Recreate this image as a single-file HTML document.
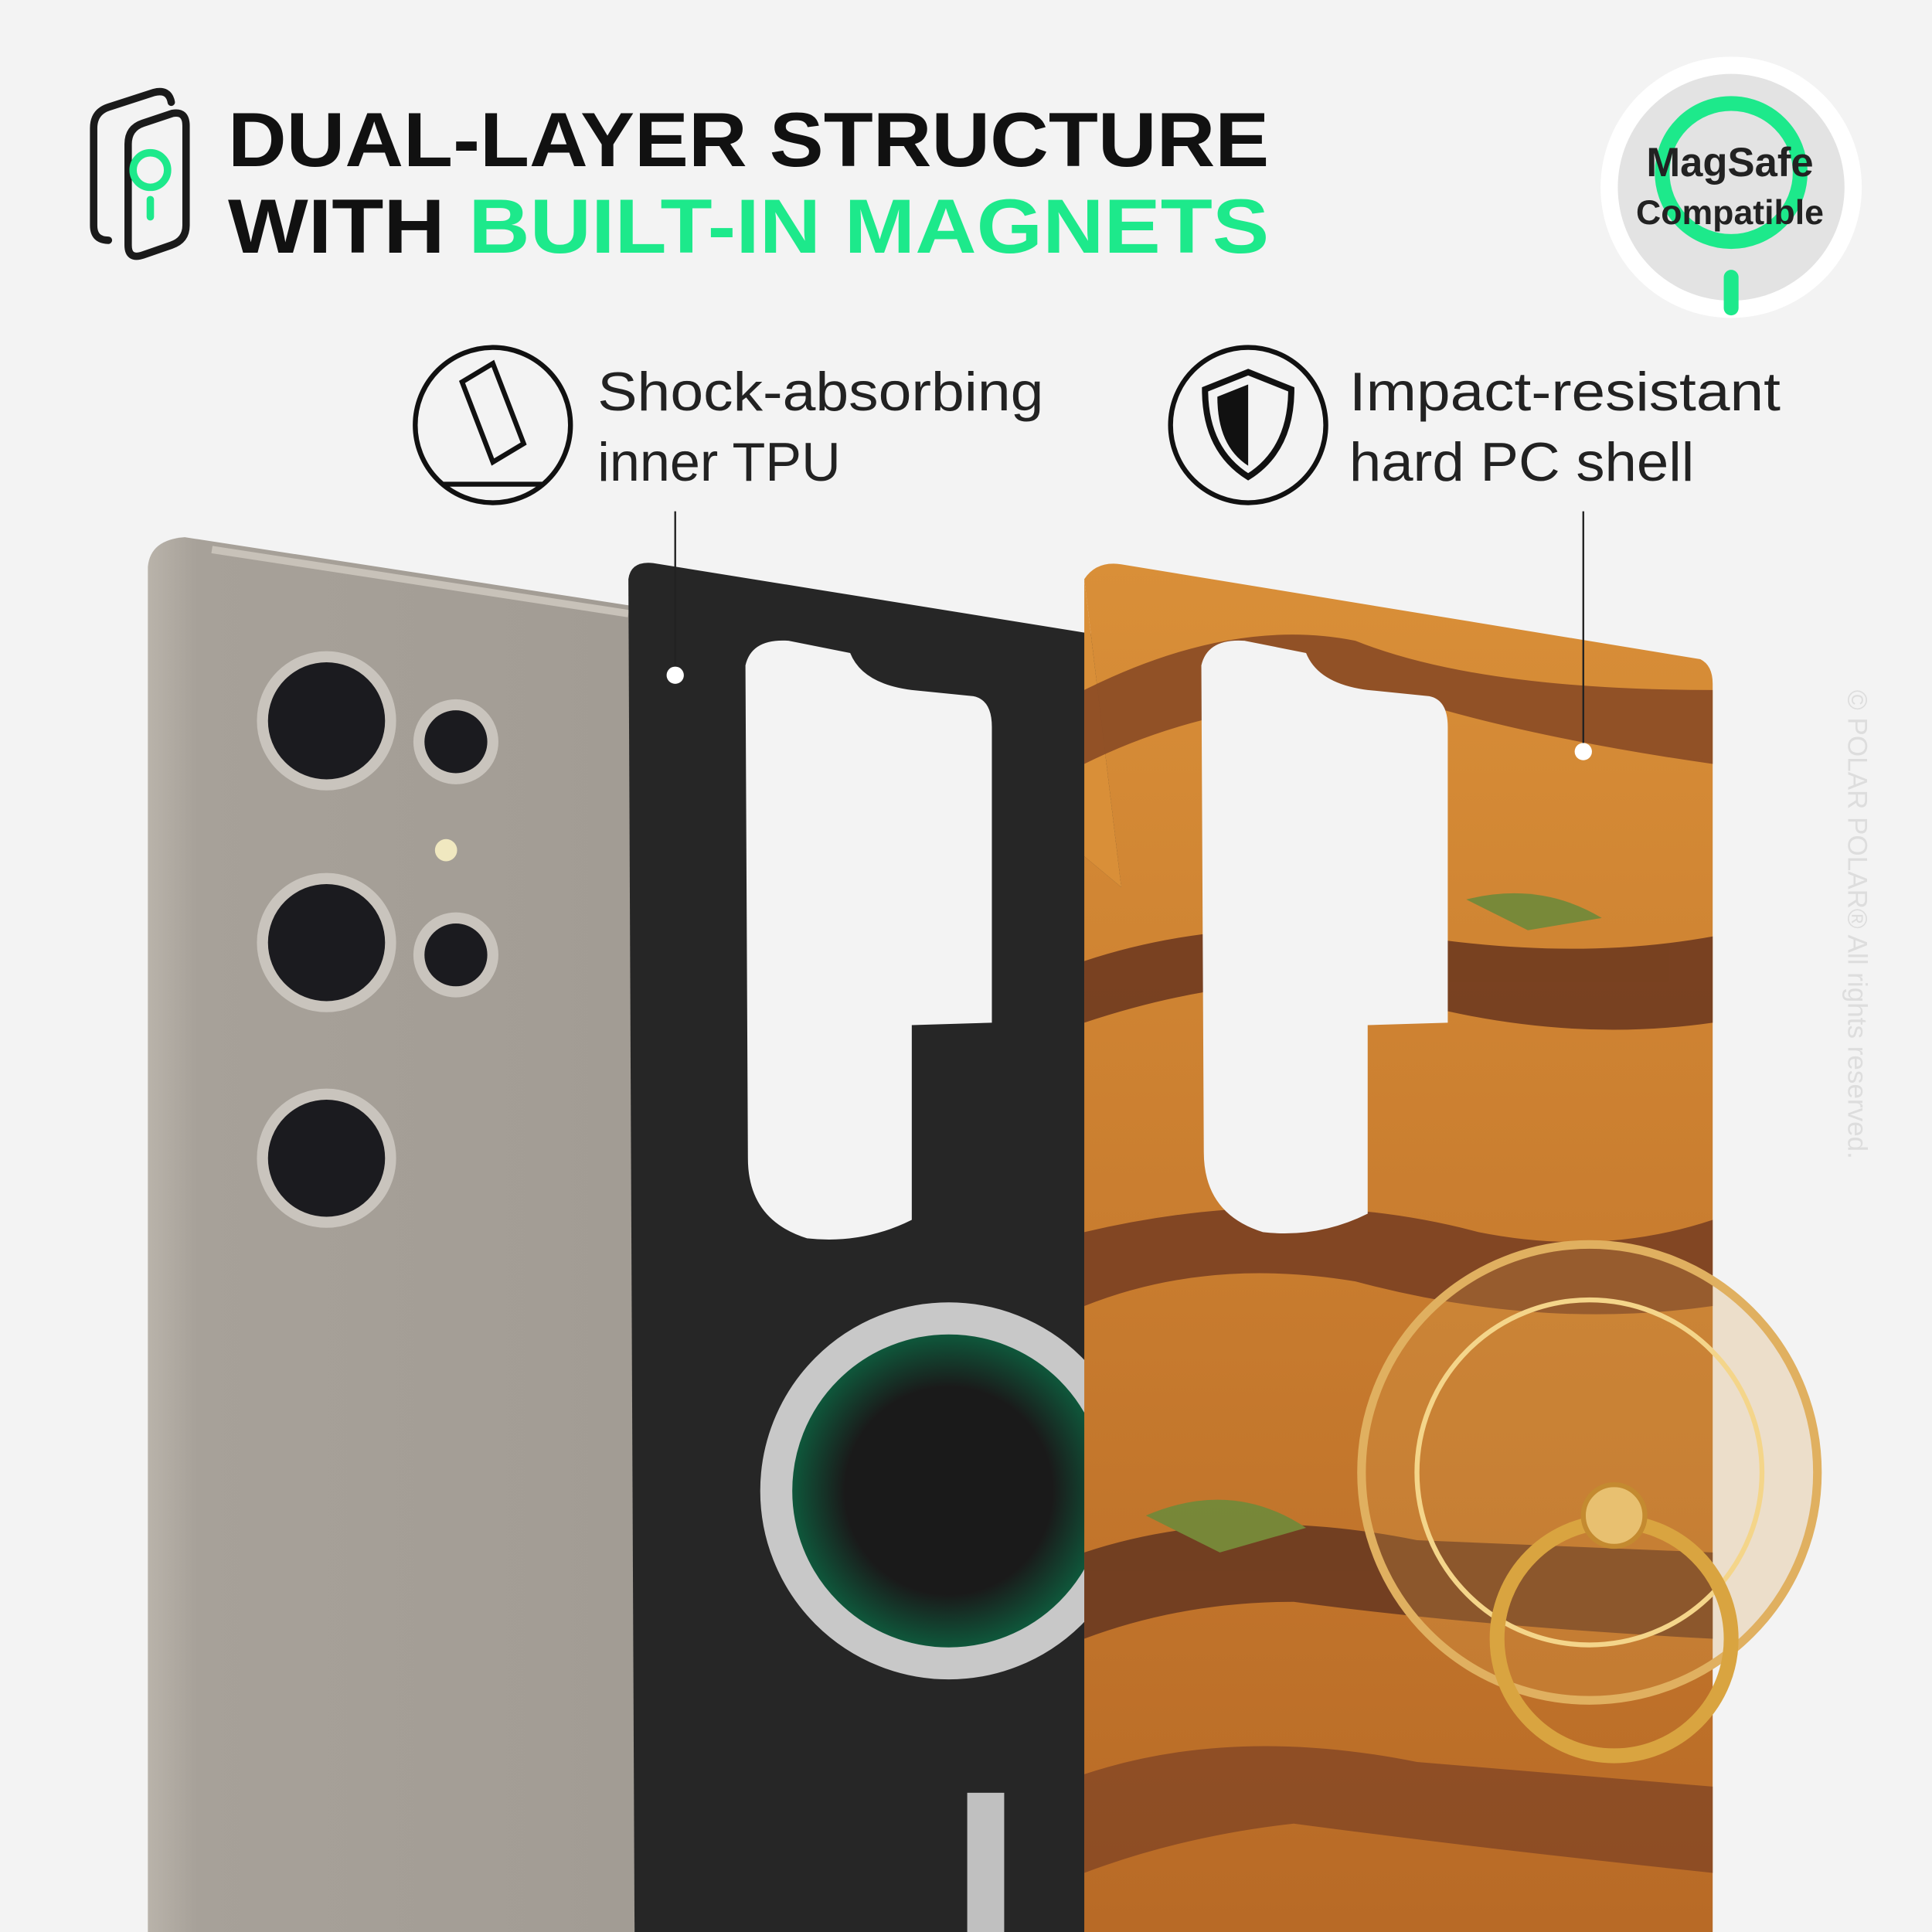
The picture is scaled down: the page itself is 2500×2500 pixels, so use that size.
<!DOCTYPE html>
<html><head><meta charset="utf-8"><style>
html,body{margin:0;padding:0;background:#f3f3f3}
svg{display:block}
text{font-family:"Liberation Sans",sans-serif}
</style></head><body>
<svg width="2500" height="2500" viewBox="0 0 1568 1568" xmlns="http://www.w3.org/2000/svg">
<defs>
<linearGradient id="ph" x1="0" x2="1"><stop offset="0" stop-color="#b9b3aa"/><stop offset="0.1" stop-color="#a7a199"/><stop offset="1" stop-color="#a29c94"/></linearGradient>
<linearGradient id="or" x1="0" y1="0" x2="0" y2="1"><stop offset="0" stop-color="#d98f38"/><stop offset="1" stop-color="#b86a26"/></linearGradient>
<radialGradient id="gr"><stop offset="0.6" stop-color="#1a1a1a"/><stop offset="1" stop-color="#0b6a45"/></radialGradient>
</defs>
<rect width="1568" height="1568" fill="#f3f3f3"/>
<g fill="none" stroke="#1a1a1a" stroke-width="6" stroke-linecap="round">
<path d="M139 83 Q137 72 125 75 L88 87 Q76 91 76 104 L76 183 Q76 195 88 195"/>
<path d="M104 117 Q104 104 116 100 L140 92 Q151 90 151 102 L151 183 Q151 195 139 199 L116 207 Q104 211 104 199 Z"/>
</g>
<circle cx="122" cy="138" r="14" fill="none" stroke="#1de98b" stroke-width="6"/>
<line x1="122" y1="162" x2="122" y2="176" stroke="#1de98b" stroke-width="6" stroke-linecap="round"/>
<text x="185" y="135" font-size="62" font-weight="bold" fill="#111" textLength="845" lengthAdjust="spacingAndGlyphs">DUAL-LAYER STRUCTURE</text>
<text x="185" y="205" font-size="62" font-weight="bold" fill="#111" textLength="845" lengthAdjust="spacingAndGlyphs">WITH <tspan fill="#1de98b">BUILT-IN MAGNETS</tspan></text>
<circle cx="1405" cy="152" r="106" fill="#fff"/>
<circle cx="1405" cy="152" r="92" fill="#e3e3e3"/>
<circle cx="1405" cy="140" r="56" fill="none" stroke="#1de98b" stroke-width="12"/>
<line x1="1405" y1="225" x2="1405" y2="250" stroke="#1de98b" stroke-width="12" stroke-linecap="round"/>
<text x="1404" y="143" font-size="33" font-weight="bold" text-anchor="middle" fill="#222">MagSafe</text>
<text x="1404" y="182" font-size="28" font-weight="bold" text-anchor="middle" fill="#222">Compatible</text>
<circle cx="400" cy="345" r="63" fill="none" stroke="#111" stroke-width="4"/>
<path d="M375 310 L400 295 L425 360 L400 375 Z" fill="none" stroke="#111" stroke-width="4"/>
<path d="M360 393 L440 393" stroke="#111" stroke-width="4"/>
<text x="485" y="333" font-size="44" fill="#222" textLength="362" lengthAdjust="spacingAndGlyphs">Shock-absorbing</text>
<text x="485" y="390" font-size="44" fill="#222">inner TPU</text>
<circle cx="1013" cy="345" r="63" fill="none" stroke="#111" stroke-width="4"/>
<path d="M1013 302 L1048 316 Q1048 365 1013 387 Q978 365 978 316 Z" fill="none" stroke="#111" stroke-width="5"/>
<path d="M1013 312 L1013 378 Q988 362 988 322 Z" fill="#111"/>
<text x="1095" y="333" font-size="44" fill="#222" textLength="350" lengthAdjust="spacingAndGlyphs">Impact-resistant</text>
<text x="1095" y="390" font-size="44" fill="#222" textLength="280" lengthAdjust="spacingAndGlyphs">hard PC shell</text>
<path d="M120 460 Q122 438 150 436 L515 492 L515 1568 L120 1568 Z" fill="url(#ph)"/>
<path d="M172 446 L510 498" stroke="#c8c2b9" stroke-width="6"/>
<g fill="#1b1b1f" stroke="#c9c4bd" stroke-width="9">
<circle cx="265" cy="585" r="52"/><circle cx="265" cy="765" r="52"/><circle cx="265" cy="940" r="52"/>
<circle cx="370" cy="602" r="30"/><circle cx="370" cy="775" r="30"/>
</g>
<circle cx="362" cy="690" r="9" fill="#f0e8c0"/>
<path d="M510 470 Q512 455 530 457 L890 515 L912 740 L912 1568 L515 1568 Z" fill="#262626"/>
<path d="M605 540 Q610 518 640 520 L690 530 Q700 555 740 560 L790 565 Q805 568 805 590 L805 830 L740 832 L740 990 Q700 1010 655 1005 Q607 990 607 940 Z" fill="#f3f3f3"/>
<circle cx="770" cy="1210" r="140" fill="url(#gr)" stroke="#c8c8c8" stroke-width="26"/>
<rect x="785" y="1455" width="30" height="113" fill="#c0c0c0"/>
<path d="M880 470 Q890 455 910 458 L1380 535 Q1390 540 1390 555 L1390 1568 L880 1568 L880 695 L910 720 Z" fill="url(#or)"/>
<path d="M880 470 L910 720 L880 695 Z" fill="#d98f38"/>
<g opacity="0.9">
<path d="M880 560 Q1000 500 1100 520 Q1200 560 1390 560 L1390 620 Q1250 600 1150 570 Q1000 560 880 620 Z" fill="#8a4a25"/>
<path d="M880 780 Q1000 740 1150 760 Q1280 780 1390 760 L1390 830 Q1250 850 1100 800 Q1000 790 880 830 Z" fill="#6f3a1f"/>
<path d="M880 1000 Q1050 960 1200 1000 Q1300 1020 1390 990 L1390 1060 Q1250 1080 1100 1040 Q980 1020 880 1060 Z" fill="#7a4022"/>
<path d="M880 1260 Q1000 1220 1150 1250 L1390 1260 L1390 1330 Q1200 1320 1050 1300 Q960 1300 880 1330 Z" fill="#6a3a20"/>
<path d="M880 1440 Q1000 1400 1150 1430 L1390 1450 L1390 1520 Q1200 1500 1050 1480 Q960 1490 880 1520 Z" fill="#8a4a25"/>
<path d="M1190 730 Q1250 715 1300 745 L1240 755 Z" fill="#6f8a3a"/>
<path d="M930 1230 Q1000 1200 1060 1240 L990 1260 Z" fill="#6f8a3a"/>
</g>
<path d="M975 540 Q980 518 1010 520 L1060 530 Q1070 555 1110 560 L1160 565 Q1175 568 1175 590 L1175 830 L1110 832 L1110 985 Q1070 1005 1025 1000 Q977 985 977 935 Z" fill="#f3f3f3"/>
<circle cx="1290" cy="1195" r="185" fill="#d7a050" fill-opacity="0.25" stroke="#e0b060" stroke-width="7"/>
<circle cx="1290" cy="1195" r="140" fill="none" stroke="#f4d58a" stroke-width="4"/>
<circle cx="1310" cy="1330" r="95" fill="none" stroke="#d9a440" stroke-width="12"/>
<circle cx="1310" cy="1230" r="25" fill="#e8c070" stroke="#c48a30" stroke-width="4"/>
<line x1="548" y1="415" x2="548" y2="548" stroke="#222" stroke-width="1.5"/>
<circle cx="548" cy="548" r="7" fill="#fff"/>
<line x1="1285" y1="415" x2="1285" y2="610" stroke="#222" stroke-width="1.5"/>
<circle cx="1285" cy="610" r="7" fill="#fff"/>
<text x="1500" y="560" font-size="22" fill="#ddd" transform="rotate(90 1500 560)">© POLAR POLAR® All rights reserved.</text>
</svg>
</body></html>
